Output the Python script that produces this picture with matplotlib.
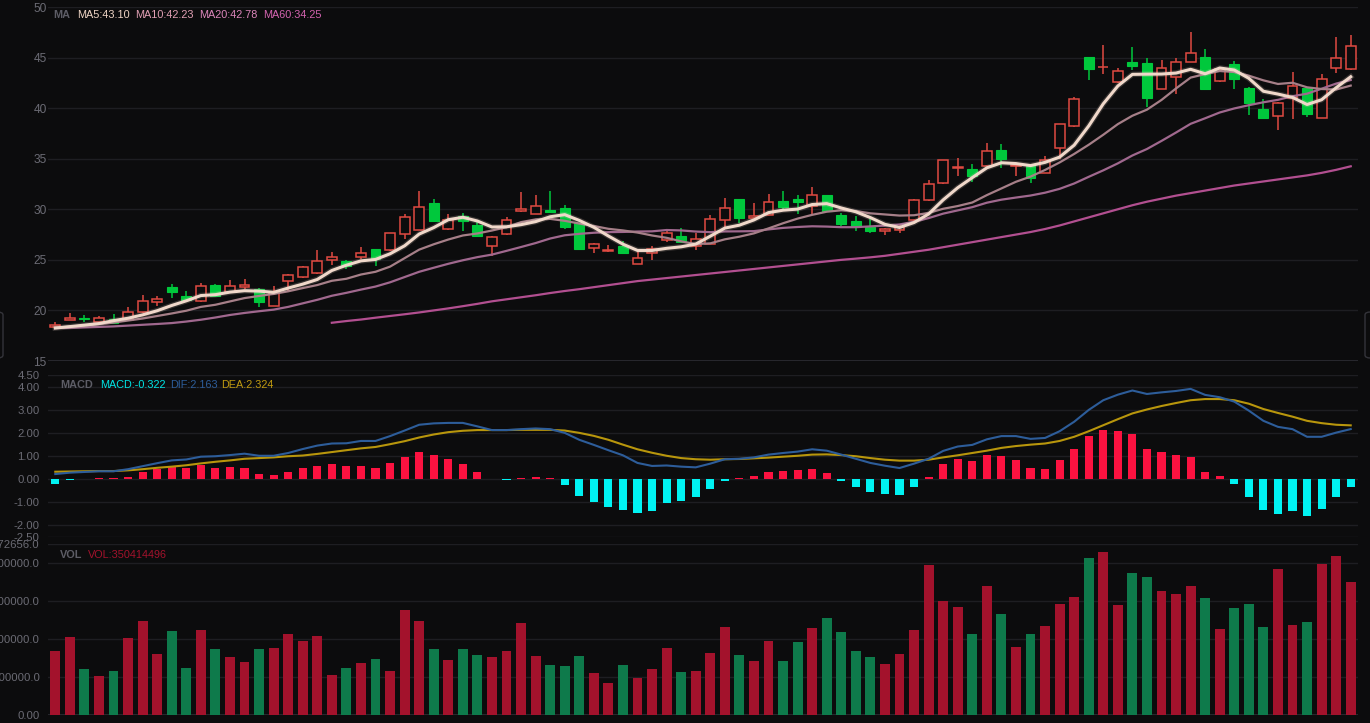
import matplotlib.pyplot as plt
import numpy as np
from matplotlib.patches import FancyBboxPatch

# candle data
opens = [18.32, 19.08, 19.28, 18.85, 19.18, 19.05, 19.84, 20.86, 22.30, 21.45,
         20.95, 22.50, 21.81, 22.27, 22.11, 20.46, 22.93, 23.29, 23.75, 25.00,
         24.93, 25.33, 26.05, 26.02, 27.60, 27.99, 30.62, 28.06, 29.38, 28.49,
         26.35, 27.53, 29.80, 29.57, 29.97, 30.10, 28.62, 26.15, 25.92, 26.41,
         24.61, 25.63, 27.00, 27.34, 26.35, 26.61, 28.91, 31.02, 29.14, 29.47,
         30.86, 31.02, 30.36, 31.41, 29.41, 28.85, 28.29, 27.83, 27.99, 28.91,
         30.95, 32.57, 34.10, 34.01, 34.31, 35.82, 34.28, 34.31, 33.61, 36.09,
         38.20, 45.03, 44.05, 42.56, 44.57, 44.44, 41.90, 43.05, 44.60, 45.10,
         42.69, 44.37, 42.03, 39.88, 39.26, 41.04, 42.03, 39.06, 43.94, 43.84]
closes = [18.58, 19.28, 19.12, 19.21, 18.75, 19.80, 20.92, 21.15, 21.84, 21.05,
          22.37, 21.41, 22.40, 22.53, 20.82, 21.81, 23.49, 24.34, 24.84, 25.26,
          24.41, 25.63, 25.07, 27.63, 29.21, 30.23, 28.82, 28.98, 28.82, 27.34,
          27.27, 28.95, 30.03, 30.30, 29.77, 28.29, 26.12, 26.61, 26.02, 25.72,
          25.16, 26.12, 27.66, 26.78, 27.07, 29.05, 30.13, 29.14, 29.34, 30.69,
          30.23, 30.69, 31.41, 29.80, 28.52, 28.32, 27.83, 28.09, 28.26, 30.95,
          32.50, 34.84, 34.12, 33.26, 35.79, 35.00, 34.41, 33.12, 34.87, 38.40,
          40.91, 43.88, 44.10, 43.68, 44.14, 41.01, 43.94, 44.60, 45.50, 41.93,
          43.88, 42.92, 40.54, 39.06, 40.54, 42.23, 39.42, 42.92, 45.00, 46.12]
highs = [18.85, 19.70, 19.54, 19.47, 19.64, 20.36, 21.48, 21.38, 22.63, 21.94,
         22.70, 22.60, 22.96, 23.12, 22.20, 22.43, 23.59, 24.44, 25.95, 25.76,
         24.95, 26.25, 26.10, 27.65, 29.57, 31.84, 30.99, 29.54, 29.64, 28.90,
         27.40, 29.21, 31.71, 31.41, 31.78, 30.39, 28.65, 26.70, 26.51, 26.84,
         25.86, 26.35, 27.96, 28.12, 27.63, 29.47, 31.12, 31.05, 30.63, 31.51,
         31.78, 31.45, 32.17, 31.45, 29.64, 29.38, 29.08, 28.12, 28.49, 31.00,
         32.93, 34.90, 35.07, 34.50, 36.55, 36.48, 34.45, 34.35, 35.26, 38.45,
         41.14, 45.10, 46.25, 43.94, 46.02, 44.93, 44.77, 44.93, 47.48, 45.84,
         43.95, 44.70, 42.10, 40.90, 40.60, 43.61, 42.10, 43.35, 47.01, 47.24]
lows = [18.25, 19.05, 18.85, 18.75, 18.62, 18.98, 19.77, 20.46, 21.18, 20.90,
        20.80, 21.28, 21.75, 22.14, 20.36, 20.40, 21.94, 23.25, 23.62, 24.47,
        24.14, 25.13, 24.37, 25.92, 27.07, 27.95, 28.80, 28.00, 27.89, 27.28,
        25.43, 27.45, 29.75, 29.50, 29.75, 28.03, 26.05, 25.69, 25.76, 25.53,
        24.55, 25.00, 26.75, 26.70, 25.95, 26.55, 28.06, 28.65, 29.10, 29.40,
        29.97, 29.57, 29.57, 29.70, 28.32, 27.90, 27.70, 27.47, 27.66, 28.85,
        30.80, 32.50, 33.32, 32.66, 34.25, 34.08, 33.28, 32.56, 33.55, 35.00,
        38.10, 42.79, 43.38, 42.50, 43.78, 40.15, 41.85, 41.40, 44.55, 41.80,
        42.55, 41.86, 39.32, 38.95, 37.84, 38.93, 39.15, 39.00, 43.45, 43.80]

# volume in millions
vol_m = [168, 205, 121, 103, 116, 203, 247, 161, 221, 124,
         224, 174, 153, 139, 174, 176, 213, 195, 208, 105,
         124, 137, 147, 116, 276, 247, 174, 145, 174, 158,
         153, 168, 242, 155, 132, 129, 155, 110, 84, 132,
         97, 121, 176, 113, 116, 163, 232, 158, 142, 195,
         142, 192, 229, 255, 218, 168, 153, 134, 161, 224,
         395, 300, 284, 213, 339, 266, 179, 213, 234, 292,
         311, 413, 429, 289, 374, 363, 326, 318, 339, 308,
         226, 282, 292, 232, 384, 237, 245, 397, 418, 350.414496]

ma5 = [18.26, 18.40, 18.55, 18.70, 18.99, 19.23, 19.56, 19.97, 20.49, 20.95,
       21.47, 21.56, 21.81, 21.95, 21.91, 21.79, 22.21, 22.60, 23.06, 23.95,
       24.47, 24.90, 25.04, 25.60, 26.39, 27.55, 28.19, 28.97, 29.21, 28.84,
       28.25, 28.27, 28.48, 28.78, 29.26, 29.47, 28.90, 28.22, 27.36, 26.55,
       25.93, 25.93, 26.14, 26.29, 26.56, 27.34, 28.14, 28.43, 28.95, 29.67,
       29.91, 30.02, 30.47, 30.56, 30.13, 29.75, 29.18, 28.51, 28.20, 28.69,
       29.53, 30.93, 32.13, 33.13, 34.10, 34.60, 34.52, 34.32, 34.64, 35.16,
       36.34, 38.24, 40.43, 42.19, 43.34, 43.36, 43.37, 43.47, 43.84, 43.40,
       43.97, 43.77, 42.95, 41.67, 41.39, 41.06, 40.36, 40.83, 42.02, 43.10]
ma10 = [18.30, 18.40, 18.50, 18.65, 18.80, 19.00, 19.20, 19.45, 19.70, 19.97,
        20.35, 20.56, 20.89, 21.22, 21.43, 21.63, 21.89, 22.21, 22.51, 22.93,
        23.13, 23.55, 23.82, 24.33, 25.17, 26.01, 26.54, 27.01, 27.41, 27.61,
        27.90, 28.23, 28.73, 29.00, 29.05, 28.86, 28.59, 28.35, 28.07, 27.91,
        27.70, 27.41, 27.18, 26.83, 26.56, 26.63, 27.03, 27.29, 27.62, 28.11,
        28.62, 29.08, 29.45, 29.76, 29.90, 29.83, 29.60, 29.49, 29.38, 29.41,
        29.64, 30.05, 30.32, 30.67, 31.40, 32.06, 32.72, 33.23, 33.89, 34.63,
        35.47, 36.38, 37.37, 38.42, 39.25, 39.85, 40.81, 41.95, 43.02, 43.37,
        43.67, 43.57, 43.21, 42.75, 42.39, 42.51, 42.06, 41.89, 41.84, 42.23]
ma20 = [18.25, 18.28, 18.32, 18.37, 18.42, 18.50, 18.58, 18.66, 18.75, 18.90,
        19.08, 19.30, 19.55, 19.75, 19.92, 20.08, 20.35, 20.70, 21.05, 21.45,
        21.74, 22.06, 22.36, 22.78, 23.30, 23.82, 24.22, 24.61, 24.96, 25.27,
        25.52, 25.89, 26.27, 26.66, 27.11, 27.43, 27.57, 27.68, 27.74, 27.76,
        27.80, 27.82, 27.95, 27.91, 27.80, 27.74, 27.81, 27.82, 27.84, 28.01,
        28.16, 28.25, 28.32, 28.29, 28.23, 28.23, 28.31, 28.39, 28.50, 28.76,
        29.13, 29.57, 29.89, 30.21, 30.65, 30.95, 31.16, 31.36, 31.64, 32.02,
        32.55, 33.21, 33.85, 34.54, 35.32, 35.96, 36.76, 37.59, 38.45, 39.00,
        39.57, 39.97, 40.29, 40.58, 40.82, 41.18, 41.43, 41.92, 42.43, 42.78]
ma60 = [np.nan] * 19 + [
        18.78, 18.95, 19.10, 19.28, 19.45, 19.62, 19.80, 20.00, 20.20, 20.42,
        20.65, 20.90, 21.10, 21.30, 21.50, 21.72, 21.92, 22.10, 22.30, 22.50,
        22.70, 22.90, 23.05, 23.20, 23.35, 23.50, 23.65, 23.80, 23.95, 24.10,
        24.25, 24.40, 24.55, 24.70, 24.85, 25.00, 25.12, 25.25, 25.40, 25.60,
        25.80, 26.00, 26.25, 26.50, 26.75, 27.00, 27.25, 27.50, 27.75, 28.05,
        28.40, 28.80, 29.20, 29.60, 30.00, 30.40, 30.75, 31.05, 31.35, 31.60,
        31.85, 32.10, 32.35, 32.55, 32.75, 32.95, 33.15, 33.35, 33.60, 33.90,
        34.25]

macd_hist = [-0.22, -0.04, 0.02, 0.05, 0.04, 0.10, 0.29, 0.44, 0.54, 0.50,
             0.59, 0.49, 0.51, 0.49, 0.22, 0.18, 0.29, 0.47, 0.58, 0.65,
             0.55, 0.58, 0.48, 0.68, 0.96, 1.17, 1.04, 0.87, 0.67, 0.29,
             -0.01, -0.03, 0.06, 0.10, 0.03, -0.26, -0.74, -0.97, -1.19, -1.33,
             -1.46, -1.36, -1.04, -0.93, -0.78, -0.42, -0.09, 0.06, 0.12, 0.30,
             0.35, 0.39, 0.45, 0.26, -0.09, -0.33, -0.55, -0.65, -0.70, -0.33,
             0.10, 0.65, 0.86, 0.78, 1.03, 1.00, 0.81, 0.48, 0.43, 0.81,
             1.30, 1.87, 2.13, 2.09, 1.94, 1.30, 1.17, 1.04, 0.96, 0.33,
             0.12, -0.22, -0.78, -1.35, -1.51, -1.36, -1.61, -1.29, -0.78, -0.322]
dif = [0.22, 0.28, 0.31, 0.34, 0.34, 0.43, 0.56, 0.69, 0.81, 0.85,
       0.97, 0.99, 1.04, 1.10, 1.01, 1.01, 1.13, 1.30, 1.45, 1.54,
       1.55, 1.65, 1.65, 1.86, 2.10, 2.35, 2.41, 2.43, 2.43, 2.28,
       2.12, 2.12, 2.16, 2.19, 2.16, 2.00, 1.70, 1.48, 1.25, 1.03,
       0.70, 0.57, 0.59, 0.54, 0.51, 0.67, 0.86, 0.88, 0.94, 1.06,
       1.13, 1.19, 1.29, 1.23, 1.06, 0.88, 0.70, 0.58, 0.48, 0.67,
       0.88, 1.22, 1.41, 1.48, 1.72, 1.86, 1.86, 1.74, 1.78, 2.07,
       2.48, 2.99, 3.41, 3.65, 3.83, 3.68, 3.75, 3.81, 3.90, 3.64,
       3.54, 3.35, 2.96, 2.52, 2.26, 2.16, 1.83, 1.83, 2.01, 2.163]
dea = [0.32, 0.33, 0.34, 0.35, 0.35, 0.38, 0.43, 0.49, 0.54, 0.60,
       0.68, 0.75, 0.81, 0.88, 0.91, 0.94, 0.99, 1.02, 1.09, 1.17,
       1.25, 1.33, 1.39, 1.51, 1.64, 1.80, 1.93, 2.03, 2.09, 2.12,
       2.12, 2.12, 2.13, 2.13, 2.13, 2.10, 2.00, 1.87, 1.70, 1.49,
       1.29, 1.14, 1.01, 0.91, 0.86, 0.84, 0.86, 0.87, 0.90, 0.93,
       0.97, 1.01, 1.06, 1.07, 1.04, 0.99, 0.91, 0.84, 0.80, 0.80,
       0.84, 0.94, 1.03, 1.13, 1.23, 1.35, 1.43, 1.49, 1.54, 1.65,
       1.83, 2.07, 2.33, 2.59, 2.84, 3.01, 3.16, 3.29, 3.41, 3.46,
       3.46, 3.41, 3.26, 3.03, 2.86, 2.70, 2.52, 2.42, 2.35, 2.324]

vol_ticks = [0, 100000000, 200000000, 300000000, 400000000, 450272656]
vol_labels = ['0.00', '100000000.0', '200000000.0', '300000000.0',
              '400000000.0', '450272656.0']
macd_ticks = [-2.5, -2, -1, 0, 1, 2, 3, 4, 4.5]

bg = '#0c0c0d'
grid_c = '#1e1e22'
tick_c = '#6b6b74'
up_c = '#e04a42'
down_c = '#00c83c'
fs = 7.8
plt.rcParams['font.family'] = ['Liberation Sans', 'DejaVu Sans']

n = len(closes)
x = np.arange(n)
o = np.array(opens)
c = np.array(closes)
h = np.array(highs)
l = np.array(lows)
up = c >= o
vol = np.array(vol_m) * 1e6
hist = np.array(macd_hist)

fig = plt.figure(figsize=(13.7, 7.23), dpi=100, facecolor=bg)
left = 48 / 1370
width = 1310 / 1370
ax1 = fig.add_axes([left, 1 - 361 / 723, width, 354 / 723])
ax2 = fig.add_axes([left, 1 - 537 / 723, width, 162 / 723])
ax3 = fig.add_axes([left, 1 - 715 / 723, width, 171 / 723])

for ax in (ax1, ax2, ax3):
    ax.set_facecolor(bg)
    for s in ax.spines.values():
        s.set_visible(False)
    ax.set_xlim(-0.5, n - 0.5)
    ax.set_xticks([])
    ax.tick_params(axis='y', length=0, colors=tick_c, labelsize=8.2)
    ax.set_axisbelow(True)
    ax.grid(axis='y', color=grid_c, linewidth=1)

# ---- candles ----
ax1.set_ylim(15, 50)
ax1.set_yticks([15, 20, 25, 30, 35, 40, 45, 50])
ax1.tick_params(axis='y', pad=1, labelsize=8.6)
ax1.axhline(15, color='#2c2c33', lw=1.2)
bw = 0.68
body_lo = np.minimum(o, c)
body_hi = np.maximum(o, c)
body_h = np.maximum(body_hi - body_lo, 0.06)
ax1.vlines(x[up], l[up], body_lo[up], color=up_c, lw=1.1, zorder=2)
ax1.vlines(x[up], body_hi[up], h[up], color=up_c, lw=1.1, zorder=2)
ax1.vlines(x[~up], l[~up], h[~up], color=down_c, lw=1.1, zorder=2)
ax1.bar(x[up], body_h[up], bw, bottom=body_lo[up], facecolor=bg,
        edgecolor=up_c, linewidth=1.1, zorder=3)
ax1.bar(x[~up], body_h[~up], bw, bottom=body_lo[~up], facecolor=down_c,
        edgecolor=down_c, linewidth=0.8, zorder=3)

ax1.plot(x, ma60, color='#b24f90', lw=1.6, zorder=4)
ax1.plot(x, ma20, color='#a0688e', lw=1.6, zorder=4)
ax1.plot(x, ma10, color='#a67f88', lw=1.6, zorder=4)
ax1.plot(x, ma5, color='#f3dccf', lw=4.0, alpha=0.18, zorder=5)
ax1.plot(x, ma5, color='#f0d8ca', lw=2.2, zorder=5)

ty = 1 - 15 / 723
fig.text(53 / 1370, ty, 'MA', color='#5d5d66', fontsize=fs,
         fontweight='bold', va='center')
fig.text(77 / 1370, ty, 'MA5:43.10', color='#f0d6c6', fontsize=fs, va='center')
fig.text(135 / 1370, ty, 'MA10:42.23', color='#e2a0b4', fontsize=fs, va='center')
fig.text(199 / 1370, ty, 'MA20:42.78', color='#dc86bb', fontsize=fs, va='center')
fig.text(263 / 1370, ty, 'MA60:34.25', color='#d464b0', fontsize=fs, va='center')

# ---- MACD ----
ax2.set_ylim(-2.5, 4.5)
ax2.set_yticks(macd_ticks)
ax2.set_yticklabels(['%.2f' % t for t in macd_ticks])
ax2.tick_params(axis='y', pad=6)
ax2.bar(x, hist, 0.55, color=np.where(hist >= 0, '#fb1240', '#00f2f2'), zorder=2)
ax2.plot(x, dea, color='#b8960c', lw=1.5, zorder=3)
ax2.plot(x, dif, color='#2d5d9a', lw=1.5, zorder=3)

ty = 1 - 385 / 723
fig.text(60 / 1370, ty, 'MACD', color='#5d5d66', fontsize=fs,
         fontweight='bold', va='center')
fig.text(100 / 1370, ty, 'MACD:-0.322', color='#00e5e5', fontsize=fs, va='center')
fig.text(170 / 1370, ty, 'DIF:2.163', color='#2d5d9a', fontsize=fs, va='center')
fig.text(221 / 1370, ty, 'DEA:2.324', color='#c09a10', fontsize=fs, va='center')

# ---- volume ----
ax3.set_ylim(0, 450272656)
ax3.set_yticks(vol_ticks)
ax3.set_yticklabels(vol_labels)
ax3.tick_params(axis='y', pad=6)
ax3.axhline(0, color='#2c2c33', lw=1.2)
ax3.bar(x, vol, bw, color=np.where(up, '#a3122c', '#0e7a4b'), zorder=2)

ty = 1 - 555 / 723
fig.text(60 / 1370, ty, 'VOL', color='#5d5d66', fontsize=fs,
         fontweight='bold', va='center')
fig.text(88 / 1370, ty, 'VOL:350414496', color='#a3122c', fontsize=fs, va='center')

# zoom handles at the edges
for hx in (-8 / 1370, 1365 / 1370):
    fig.patches.append(FancyBboxPatch((hx, 1 - 358 / 723), 11 / 1370, 46 / 723,
                                      boxstyle='round,pad=0,rounding_size=0.004',
                                      transform=fig.transFigure, facecolor=bg,
                                      edgecolor='#34343a', linewidth=1))

fig.savefig('out.png', dpi=100, facecolor=bg)
